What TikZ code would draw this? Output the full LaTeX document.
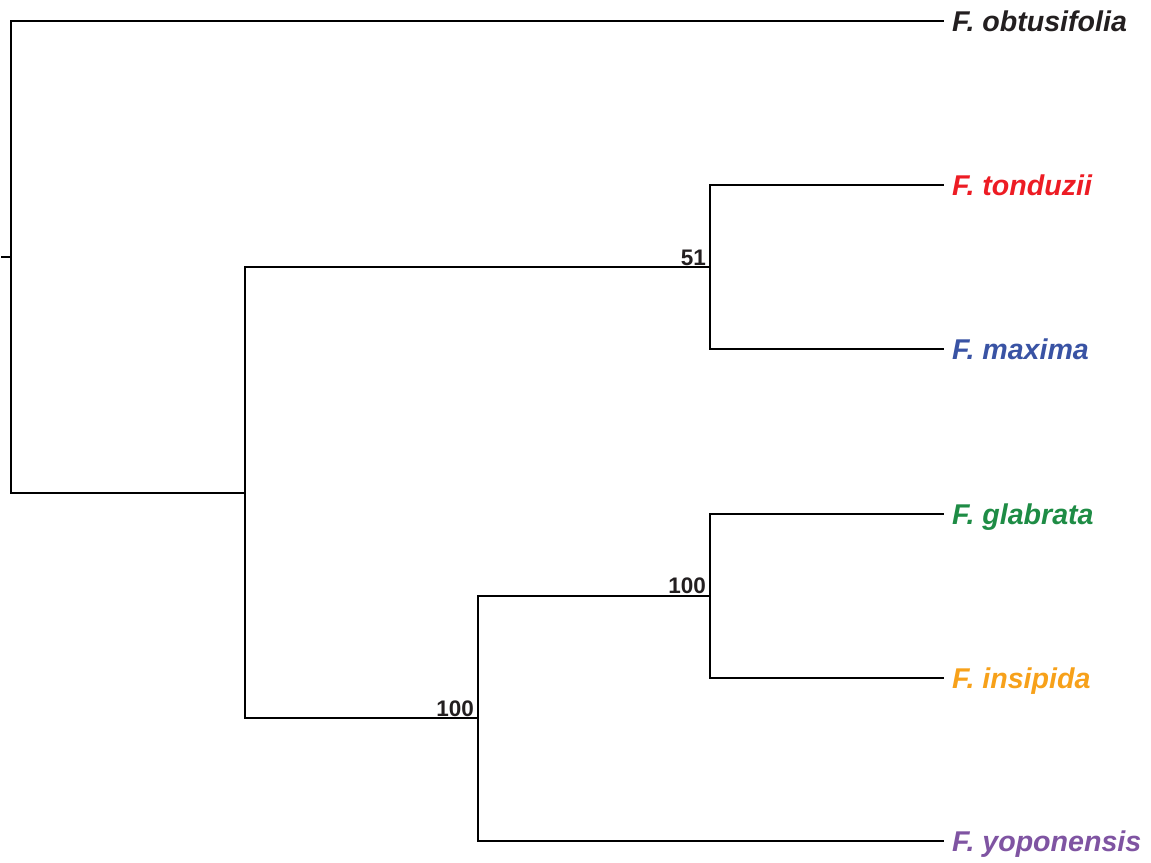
\documentclass[tikz,border=0pt]{standalone}
\usepackage{fontspec}
\setmainfont{Liberation Sans}
\definecolor{cobt}{HTML}{231F20}
\definecolor{cton}{HTML}{ED1C24}
\definecolor{cmax}{HTML}{3953A4}
\definecolor{cgla}{HTML}{1E8C45}
\definecolor{cins}{HTML}{F7A11A}
\definecolor{cyop}{HTML}{7F54A2}
\begin{document}
\begin{tikzpicture}[x=1pt,y=-1pt,
  branch/.style={line width=1.9pt,draw=black},
  leaf/.style={anchor=base west,inner sep=0pt,font=\fontsize{28.6}{30}\selectfont\bfseries\itshape},
  support/.style={anchor=base east,inner sep=0pt,text=cobt,font=\fontsize{22.5}{24}\selectfont\bfseries}]
\useasboundingbox (0,0) rectangle (1151,862);
% internal nodes
\coordinate (stub) at (1,257);
\coordinate (n0) at (11,257);
\coordinate (nA) at (245,493);
\coordinate (n51) at (710,267);
\coordinate (nB) at (478,718);
\coordinate (nC) at (710,596);
% leaf ends
\coordinate (lobt) at (944,21);
\coordinate (lton) at (944,185);
\coordinate (lmax) at (944,349);
\coordinate (lgla) at (944,514);
\coordinate (lins) at (944,678);
\coordinate (lyop) at (944,841);
% branches
\draw[branch] (stub) -- (n0);
\draw[branch] (n0) |- (lobt);
\draw[branch] (n0) |- (nA);
\draw[branch] (nA) |- (n51);
\draw[branch] (nA) |- (nB);
\draw[branch] (n51) |- (lton);
\draw[branch] (n51) |- (lmax);
\draw[branch] (nB) |- (nC);
\draw[branch] (nB) |- (lyop);
\draw[branch] (nC) |- (lgla);
\draw[branch] (nC) |- (lins);
% leaf labels
\node[leaf,text=cobt] (tobt) at (952,31) {F. obtusifolia};
\node[leaf,text=cton] (tton) at (952,195) {F. tonduzii};
\node[leaf,text=cmax] (tmax) at (952,359) {F. maxima};
\node[leaf,text=cgla] (tgla) at (952,524) {F. glabrata};
\node[leaf,text=cins] (tins) at (952,688) {F. insipida};
\node[leaf,text=cyop] (tyop) at (952,851) {F. yoponensis};
% support values
\node[support] (s51) at (706,265) {51};
\node[support] (sC) at (706,593) {100};
\node[support] (sB) at (474,716) {100};
\end{tikzpicture}
\end{document}
